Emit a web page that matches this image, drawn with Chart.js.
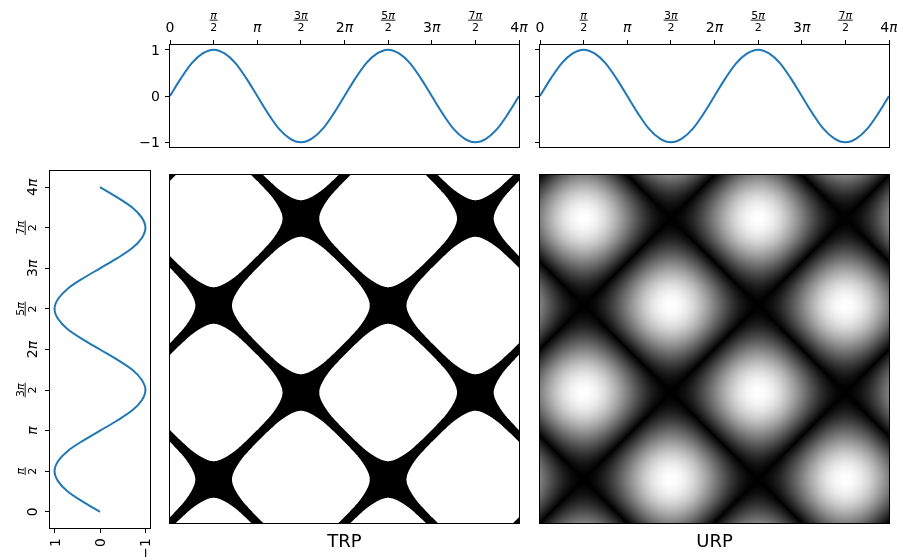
<!DOCTYPE html>
<html>
<head>
<meta charset="utf-8">
<script src="https://cdn.jsdelivr.net/npm/chart.js@4.4.1/dist/chart.umd.min.js"></script>
<style>
  body { margin: 0; background: #fff; }
  #figure { position: relative; width: 897px; height: 557px; overflow: hidden; background: #fff; }
  #figure canvas { position: absolute; }
</style>
</head>
<body>
<div id="figure">
  <canvas id="topLeft"></canvas>
  <canvas id="topRight"></canvas>
  <canvas id="side"></canvas>
  <canvas id="trp"></canvas>
  <canvas id="urp"></canvas>
</div>
<script>
// sample positions along the time axis, in multiples of pi
const samplePos = [0, 0.125, 0.25, 0.375, 0.5, 0.625, 0.75, 0.875, 1,
    1.125, 1.25, 1.375, 1.5, 1.625, 1.75, 1.875, 2,
    2.125, 2.25, 2.375, 2.5, 2.625, 2.75, 2.875, 3,
    3.125, 3.25, 3.375, 3.5, 3.625, 3.75, 3.875, 4];
// signal value read at each sample
const sineValues = [0, 0.38, 0.71, 0.92, 1, 0.92, 0.71, 0.38, 0,
    -0.38, -0.71, -0.92, -1, -0.92, -0.71, -0.38, 0,
    0.38, 0.71, 0.92, 1, 0.92, 0.71, 0.38, 0,
    -0.38, -0.71, -0.92, -1, -0.92, -0.71, -0.38, 0];

const piTicks = [0, 0.5, 1, 1.5, 2, 2.5, 3, 3.5, 4];
const piTickLabels = ['0', 'π/2', 'π', '3π/2', '2π', '5π/2', '3π', '7π/2', '4π'];
const unitTicks = [-1, 0, 1];
const unitTickLabels = ['−1', '0', '1'];
const plotTitles = ['TRP', 'URP'];
const recurrenceThreshold = 0.21;

const PI = Math.PI;
const PAD = 40;
const LINE = '#1f77b4';
const FONT = '"DejaVu Sans", sans-serif';

// chart-area rectangles of each panel, in page pixels
const boxes = {
    topLeft:  { left: 170, top: 45,  right: 519, bottom: 147 },
    topRight: { left: 540, top: 45,  right: 889, bottom: 147 },
    side:     { left: 50,  top: 171, right: 150, bottom: 528 },
    trp:      { left: 170, top: 175, right: 519, bottom: 523 },
    urp:      { left: 540, top: 175, right: 889, bottom: 523 }
};

// smooth value of the series between samples (p in multiples of pi)
function seriesAt(p) {
    const n = samplePos.length;
    let i = 0;
    while (i < n - 2 && samplePos[i + 1] < p) i++;
    const x0 = samplePos[i], x1 = samplePos[i + 1];
    const h = x1 - x0;
    const s = Math.min(1, Math.max(0, (p - x0) / h));
    const slope = k => {
        const a = Math.max(0, k - 1), b = Math.min(n - 1, k + 1);
        return (sineValues[b] - sineValues[a]) / (samplePos[b] - samplePos[a]);
    };
    const m0 = slope(i) * h, m1 = slope(i + 1) * h;
    const s2 = s * s, s3 = s2 * s;
    return (2 * s3 - 3 * s2 + 1) * sineValues[i] + (s3 - 2 * s2 + s) * m0 +
        (-2 * s3 + 3 * s2) * sineValues[i + 1] + (s3 - s2) * m1;
}

function axis(position, min, max, ticks, reverse) {
    return {
        type: 'linear',
        position: position,
        min: min,
        max: max,
        reverse: !!reverse,
        afterBuildTicks: a => { a.ticks = ticks.map(v => ({ value: v })); },
        afterFit: a => { if (a.isHorizontal()) a.height = 0; else a.width = 0; },
        ticks: { display: false },
        grid: {
            display: ticks.length > 0,
            drawOnChartArea: false,
            drawTicks: true,
            tickLength: 5,
            lineWidth: 1,
            color: '#000'
        },
        border: { display: false }
    };
}

// text with an italic pi, centred on cx
function drawMath(ctx, text, cx, baseline, size) {
    const pieces = [];
    let total = 0;
    for (const ch of text) {
        const font = (ch === 'π' ? 'italic ' : '') + size + 'px ' + FONT;
        ctx.font = font;
        const w = ctx.measureText(ch).width;
        pieces.push({ ch, font, w });
        total += w;
    }
    let x = cx - total / 2;
    ctx.textAlign = 'left';
    ctx.textBaseline = 'alphabetic';
    for (const p of pieces) {
        ctx.font = p.font;
        ctx.fillText(p.ch, x, baseline);
        x += p.w;
    }
    return total;
}

// label set against an axis edge; local "up" points away from the plot
function drawPiLabel(ctx, label, x, y, angle) {
    ctx.save();
    ctx.translate(x, y);
    ctx.rotate(angle);
    ctx.fillStyle = '#000';
    const parts = label.split('/');
    if (parts.length === 2) {
        const w1 = drawMath(ctx, parts[0], 0, -26.3, 11);
        const w2 = drawMath(ctx, parts[1], 0, -14, 11);
        const w = Math.max(w1, w2) + 1;
        ctx.fillRect(-w / 2, -25.3, w, 0.9);
    } else {
        drawMath(ctx, label, 0, -13.5, 14);
    }
    ctx.restore();
}

const framePlugin = {
    id: 'frame',
    afterDraw(chart) {
        const { ctx, chartArea: a } = chart;
        ctx.save();
        ctx.strokeStyle = '#000';
        ctx.lineWidth = 1;
        ctx.strokeRect(a.left - 0.5, a.top - 0.5, a.right - a.left + 1, a.bottom - a.top + 1);
        ctx.restore();
    }
};

const topPiLabels = {
    id: 'topPiLabels',
    afterDraw(chart) {
        const { ctx, chartArea: a, scales: { x } } = chart;
        piTicks.forEach((p, i) => drawPiLabel(ctx, piTickLabels[i], x.getPixelForValue(p * PI), a.top, 0));
    }
};

const leftUnitLabels = {
    id: 'leftUnitLabels',
    afterDraw(chart) {
        const { ctx, chartArea: a, scales: { y } } = chart;
        ctx.save();
        ctx.fillStyle = '#000';
        ctx.font = '14px ' + FONT;
        ctx.textAlign = 'right';
        ctx.textBaseline = 'alphabetic';
        unitTicks.forEach((v, i) => ctx.fillText(unitTickLabels[i], a.left - 10, y.getPixelForValue(v) + 5));
        ctx.restore();
    }
};

const sideLabels = {
    id: 'sideLabels',
    afterDraw(chart) {
        const { ctx, chartArea: a, scales: { x, y } } = chart;
        piTicks.forEach((p, i) => drawPiLabel(ctx, piTickLabels[i], a.left, y.getPixelForValue(p * PI), -PI / 2));
        unitTicks.forEach((v, i) => {
            ctx.save();
            ctx.translate(x.getPixelForValue(v), a.bottom + 10);
            ctx.rotate(-PI / 2);
            ctx.fillStyle = '#000';
            ctx.font = '14px ' + FONT;
            ctx.textAlign = 'right';
            ctx.textBaseline = 'alphabetic';
            ctx.fillText(unitTickLabels[i], 0, 5);
            ctx.restore();
        });
    }
};

// recurrence plot of the series against itself, drawn pixel by pixel via the scales
function recurrencePlugin(threshold, title) {
    return {
        id: 'recurrence',
        beforeDatasetsDraw(chart) {
            const { ctx, chartArea: a, scales: { x, y } } = chart;
            const w = Math.round(a.right - a.left), h = Math.round(a.bottom - a.top);
            const ss = threshold === null ? 1 : 3;
            const cols = [], rows = [];
            for (let i = 0; i < w * ss; i++) cols.push(seriesAt(x.getValueForPixel(a.left + (i + 0.5) / ss) / PI));
            for (let j = 0; j < h * ss; j++) rows.push(seriesAt(y.getValueForPixel(a.top + (j + 0.5) / ss) / PI));
            const img = ctx.createImageData(w, h);
            for (let j = 0; j < h; j++) {
                for (let i = 0; i < w; i++) {
                    let g = 0;
                    if (threshold === null) {
                        g = Math.min(1, Math.abs(cols[i] - rows[j]) / 2);
                    } else {
                        for (let sj = 0; sj < ss; sj++) {
                            for (let si = 0; si < ss; si++) {
                                if (Math.abs(cols[i * ss + si] - rows[j * ss + sj]) >= threshold) g++;
                            }
                        }
                        g /= ss * ss;
                    }
                    const k = (j * w + i) * 4;
                    const c = Math.round(g * 255);
                    img.data[k] = c; img.data[k + 1] = c; img.data[k + 2] = c; img.data[k + 3] = 255;
                }
            }
            ctx.putImageData(img, Math.round(a.left), Math.round(a.top));
        },
        afterDraw(chart) {
            const { ctx, chartArea: a } = chart;
            ctx.save();
            ctx.fillStyle = '#000';
            ctx.font = '18px ' + FONT;
            ctx.textAlign = 'center';
            ctx.textBaseline = 'alphabetic';
            ctx.fillText(title, (a.left + a.right) / 2, a.bottom + 24);
            ctx.restore();
        }
    };
}

function makeChart(id, config) {
    const box = boxes[id];
    const canvas = document.getElementById(id);
    const w = box.right - box.left + 2 * PAD;
    const h = box.bottom - box.top + 2 * PAD;
    canvas.width = w;
    canvas.height = h;
    canvas.style.left = (box.left - PAD) + 'px';
    canvas.style.top = (box.top - PAD) + 'px';
    canvas.style.width = w + 'px';
    canvas.style.height = h + 'px';
    config.options = Object.assign({
        responsive: false,
        animation: false,
        events: [],
        devicePixelRatio: 1,
        layout: { padding: PAD },
        plugins: { legend: { display: false }, tooltip: { enabled: false } }
    }, config.options);
    return new Chart(canvas.getContext('2d'), config);
}

function timeSeries() {
    return {
        data: samplePos.map((p, i) => ({ x: p * PI, y: sineValues[i] })),
        borderColor: LINE,
        borderWidth: 2,
        pointRadius: 0,
        fill: false,
        cubicInterpolationMode: 'monotone'
    };
}

makeChart('topLeft', {
    type: 'line',
    data: { datasets: [timeSeries()] },
    options: {
        scales: {
            x: axis('top', 0, 4 * PI, piTicks.map(p => p * PI)),
            y: axis('left', -1.1, 1.1, unitTicks)
        }
    },
    plugins: [framePlugin, topPiLabels, leftUnitLabels]
});

makeChart('topRight', {
    type: 'line',
    data: { datasets: [timeSeries()] },
    options: {
        scales: {
            x: axis('top', 0, 4 * PI, piTicks.map(p => p * PI)),
            y: axis('left', -1.1, 1.1, unitTicks)
        }
    },
    plugins: [framePlugin, topPiLabels]
});

makeChart('side', {
    type: 'line',
    data: {
        datasets: [{
            data: samplePos.map((p, i) => ({ x: sineValues[i], y: p * PI })),
            borderColor: LINE,
            borderWidth: 2,
            pointRadius: 0,
            fill: false,
            cubicInterpolationMode: 'monotone'
        }]
    },
    options: {
        indexAxis: 'y',
        scales: {
            x: axis('bottom', -1.1, 1.1, unitTicks, true),
            y: axis('left', -0.2 * PI, 4.2 * PI, piTicks.map(p => p * PI))
        }
    },
    plugins: [framePlugin, sideLabels]
});

makeChart('trp', {
    type: 'scatter',
    data: { datasets: [] },
    options: {
        scales: {
            x: axis('bottom', 0, 4 * PI, []),
            y: axis('left', 0, 4 * PI, [])
        }
    },
    plugins: [recurrencePlugin(recurrenceThreshold, plotTitles[0]), framePlugin]
});

makeChart('urp', {
    type: 'scatter',
    data: { datasets: [] },
    options: {
        scales: {
            x: axis('bottom', 0, 4 * PI, []),
            y: axis('left', 0, 4 * PI, [])
        }
    },
    plugins: [recurrencePlugin(null, plotTitles[1]), framePlugin]
});
</script>
</body>
</html>
